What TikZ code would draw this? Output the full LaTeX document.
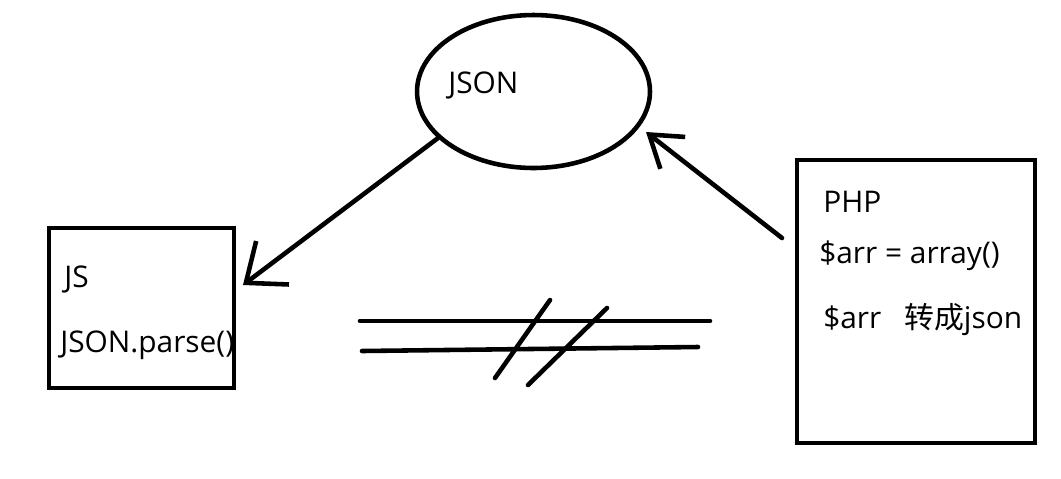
\documentclass[tikz,border=0pt]{standalone}
\usepackage{fontspec}
\setmainfont{Open Sans}
\newfontfamily\cjk{Noto Sans CJK SC}
\usetikzlibrary{arrows.meta,shapes.geometric}

\begin{document}
\begin{tikzpicture}[x=0.02cm, y=-0.02cm, line width=2.6pt, line cap=round,
	box/.style={draw, rectangle, inner sep=0pt},
	txt/.style={anchor=base west, inner sep=0pt, font=\fontsize{17}{20}\selectfont}]
\useasboundingbox (0,0) rectangle (1061,478);

% JSON in the middle
\node[draw, ellipse, inner sep=0pt, minimum width=4.66cm, minimum height=3.06cm] (json) at (533.5,91.5) {};
\node[txt] (jsonlabel) at (446,93) {JSON};

% the two sides
\node[box, minimum width=3.7cm, minimum height=3.2cm] (js) at (141.5,308) {};
\node[txt] (jsname) at (62,287) {JS};
\node[txt] (jsparse) at (58,352) {JSON.parse()};

\node[box, minimum width=4.76cm, minimum height=5.66cm] (php) at (916,301.5) {};
\node[txt] (phpname) at (821,212) {PHP};
\node[txt] (phparr) at (817,263) {\$arr = array()};
\node[txt] (phpjson) at (821,328) {\$arr\hspace{13pt}{\cjk 转成}json};

% arrows
\coordinate (jsin) at (243,285);
\coordinate (phpout) at (782,238);
\coordinate (jsonin) at (646,132);
\draw[-{Straight Barb[length=19pt,width=31pt]}] (json.206) -- (jsin);
\draw[-{Straight Barb[length=17pt,width=23pt]}] (phpout) -- (jsonin);

% no direct way
\draw (360,321) -- (710,321);
\draw (362,351) -- (698,347);
\draw (550,300) -- (495,378);
\draw (607,308) -- (528,385);
\end{tikzpicture}
\end{document}
